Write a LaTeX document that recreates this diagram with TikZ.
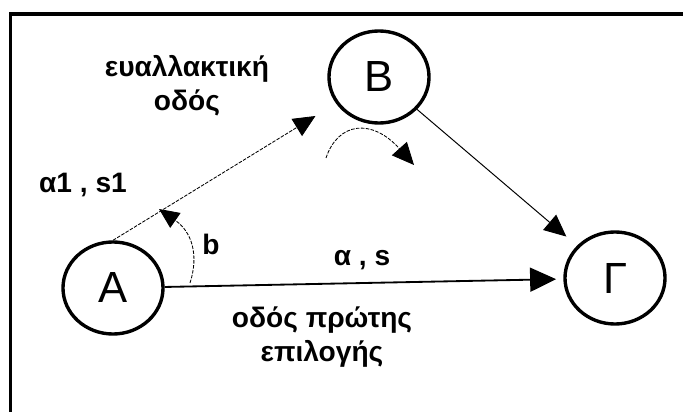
\documentclass[tikz,border=0pt]{standalone}
\usepackage{fontspec}
\setmainfont{Liberation Sans}
\usetikzlibrary{arrows.meta,shapes.geometric}

\begin{document}
\begin{tikzpicture}[x=0.025cm,y=-0.025cm,
  stop/.style={draw,ellipse,line width=2.4pt,minimum width=2.5cm,minimum height=2.3cm,inner sep=0pt,font=\fontsize{31}{33}\selectfont},
  lbl/.style={font=\bfseries\fontsize{20}{24}\selectfont,align=center},
  road/.style={line width=1.3pt,-{Triangle[length=0.65cm,width=0.6cm]}},
  detour/.style={line width=0.6pt,dash pattern=on 2.5pt off 1pt,-{Triangle[length=0.55cm,width=0.5cm]}}]
  \useasboundingbox (0,0) rectangle (683,412);
  % frame, cut off at the right and bottom
  \draw[line width=2.2pt] (683,14) -- (10.5,14) -- (10.5,412);
  % towns
  \node[stop] (A) at (113,288) {A};
  \node[stop] (B) at (379,77) {B};
  \node[stop] (G) at (615,278) {Γ};
  % roads
  \draw[road,shorten >=0.18cm] (A) -- (G);
  \draw[detour,shorten >=0.6cm] (A.north) -- (B);
  \draw[line width=0.7pt,-{Triangle[length=0.55cm,width=0.5cm]},shorten >=0.35cm] (B) -- (G);
  % angle b
  \coordinate (bfoot) at (190,283);
  \coordinate (btip) at (159,209);
  \draw[detour,-{Triangle[length=0.5cm,width=0.45cm]}] (bfoot) .. controls (199,255) and (192,232) .. (btip);
  % turn arrow under B
  \coordinate (tstart) at (326,158);
  \coordinate (tend) at (414,165);
  \draw[detour] (tstart) .. controls (338,122) and (372,118) .. (tend);
  % labels
  \node[lbl] (alt) at (187,86) {ευαλλακτική\\οδός};
  \node[lbl] (a1s1) at (83,185) {α1 , s1};
  \node[lbl] (bang) at (211,244) {b};
  \node[lbl] (as) at (362,260) {α , s};
  \node[lbl] (main) at (322,337) {οδός πρώτης\\επιλογής};
\end{tikzpicture}
\end{document}
